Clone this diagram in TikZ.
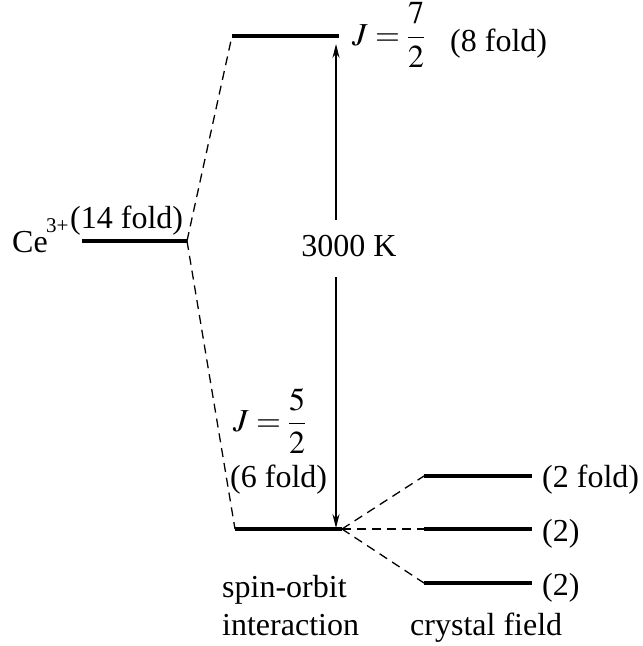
\documentclass[tikz,border=0pt]{standalone}
\usepackage{amsmath}
\usepackage{mathptmx}
\usepackage{fontspec}
\setmainfont{Liberation Serif}
\usetikzlibrary{arrows.meta}
\tikzset{
  level/.style={line width=3.8pt},
  split/.style={line width=1.3pt, dash pattern=on 9pt off 6pt},
  lbl/.style={inner sep=0pt, anchor=base west, font=\fontsize{32}{38}\selectfont},
  mlbl/.style={inner sep=0pt, anchor=west, font=\fontsize{32}{38}\selectfont},
  gap/.style={line width=1.2pt, {Stealth[length=14pt,width=7pt]}-{Stealth[length=14pt,width=7pt]}}
}
\begin{document}
\begin{tikzpicture}[x=1pt,y=-1pt]
\useasboundingbox (0,0) rectangle (643,646);
% level end points
\coordinate (ceL) at (82,241);
\coordinate (ceR) at (187,241);
\coordinate (upL) at (232,36);
\coordinate (upR) at (339,36);
\coordinate (loL) at (235,529);
\coordinate (loR) at (342,529);
\coordinate (c1L) at (424,476);
\coordinate (c1R) at (532,476);
\coordinate (c2L) at (424,529);
\coordinate (c2R) at (532,529);
\coordinate (c3L) at (424,583);
\coordinate (c3R) at (532,583);
\coordinate (arT) at (336,44);
\coordinate (arB) at (336,528);
% levels
\draw[level] (ceL) -- (ceR);
\draw[level] (upL) -- (upR);
\draw[level] (loL) -- (loR);
\draw[level] (c1L) -- (c1R);
\draw[level] (c2L) -- (c2R);
\draw[level] (c3L) -- (c3R);
% splitting lines
\draw[split] (ceR) -- (upL);
\draw[split] (ceR) -- (loL);
\draw[split] (loR) -- (c1L);
\draw[split] (loR) -- (c2L);
\draw[split] (loR) -- (c3L);
% gap arrow
\draw[gap] (arT) -- (arB);
\fill[white] (300,220) rectangle (399,277);
\node[lbl, anchor=base] (gapT) at (349,256) {3000 K};
% labels
\node[lbl] (ce) at (12,252) {Ce};
\node[lbl, font=\fontsize{21}{25}\selectfont] (ceS) at (46,232) {3+};
\node[lbl] (ceF) at (70,228) {(14 fold)};
\node[mlbl] (jup) at (352,35) {$J=\dfrac{7}{2}$};
\node[lbl] (jupF) at (450,51) {(8 fold)};
\node[mlbl] (jlo) at (233,421) {$J=\dfrac{5}{2}$};
\node[lbl] (jloF) at (230,487) {(6 fold)};
\node[lbl] (c1T) at (542,487) {(2 fold)};
\node[lbl] (c2T) at (542,541) {(2)};
\node[lbl] (c3T) at (542,595) {(2)};
\node[lbl] (so1) at (222,597) {spin-orbit};
\node[lbl] (so2) at (222,635) {interaction};
\node[lbl] (cf) at (410,635) {crystal field};
\end{tikzpicture}
\end{document}
